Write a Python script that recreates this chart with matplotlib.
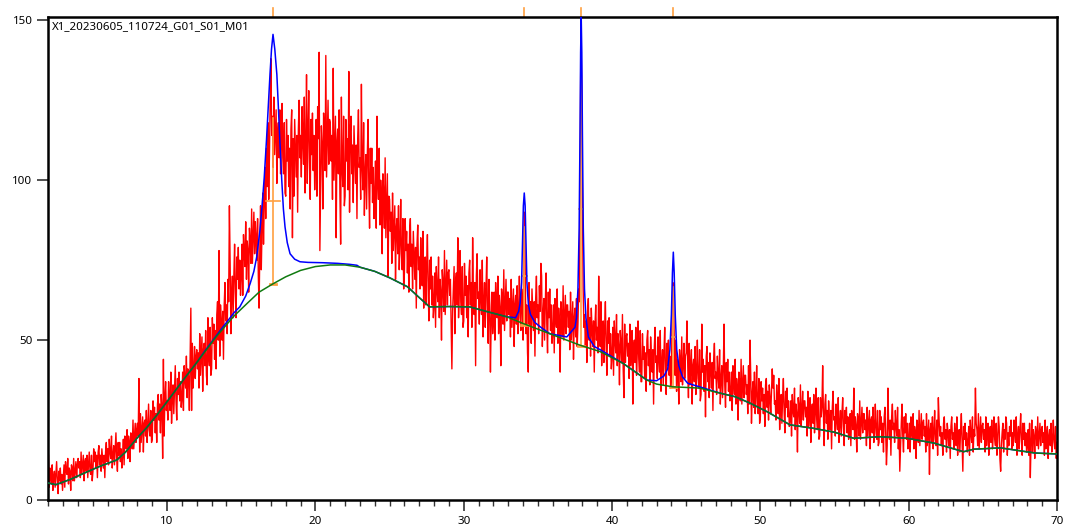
import numpy as np
import matplotlib
matplotlib.use('Agg')
import matplotlib.pyplot as plt

plt.rcParams['font.family'] = ['Noto Sans', 'DejaVu Sans']

title = "X1_20230605_110724_G01_S01_M01"

# measured intensity, 2theta from 2.0 to 70.0 in steps of 0.05 (one row per degree)
x_start, x_step = 2.0, 0.05
counts = [
    14, 4, 10, 7, 5, 11, 3, 7, 9, 4, 8, 12, 6, 2, 9, 6, 10, 5, 8, 3,
    7, 11, 4, 12, 9, 8, 13, 5, 10, 9, 3, 11, 10, 6, 13, 6, 9, 12, 7, 11,
    13, 10, 12, 7, 15, 8, 11, 14, 6, 12, 13, 9, 14, 7, 11, 15, 9, 8, 14, 6,
    9, 16, 12, 15, 10, 14, 7, 15, 17, 11, 14, 9, 16, 13, 10, 14, 7, 15, 18, 12,
    16, 11, 19, 15, 13, 20, 10, 14, 17, 11, 16, 21, 13, 9, 18, 14, 18, 12, 16, 10,
    14, 19, 11, 20, 17, 16, 22, 13, 20, 18, 12, 21, 20, 16, 25, 16, 20, 24, 18, 22,
    24, 20, 38, 15, 27, 18, 22, 26, 15, 24, 25, 20, 28, 18, 23, 30, 22, 20, 28, 18,
    19, 31, 25, 29, 21, 27, 18, 30, 33, 25, 30, 21, 33, 29, 13, 44, 20, 32, 37, 28,
    31, 25, 37, 31, 28, 40, 24, 32, 36, 27, 35, 42, 31, 25, 38, 33, 40, 31, 37, 29,
    32, 40, 28, 42, 38, 35, 45, 32, 41, 38, 28, 44, 60, 28, 49, 35, 41, 48, 38, 45,
    47, 41, 46, 35, 52, 39, 45, 51, 34, 47, 49, 42, 53, 39, 36, 57, 45, 42, 54, 39,
    41, 57, 49, 55, 44, 53, 41, 58, 62, 50, 78, 45, 61, 56, 50, 59, 44, 61, 68, 56,
    61, 52, 69, 62, 92, 74, 52, 64, 70, 57, 70, 80, 65, 57, 76, 69, 79, 66, 75, 64,
    70, 80, 64, 83, 77, 73, 87, 69, 81, 78, 65, 85, 81, 74, 91, 74, 82, 90, 77, 87,
    82, 75, 88, 70, 60, 78, 92, 72, 85, 96, 80, 93, 104, 88, 110, 98, 118, 94, 108, 125,
    138, 114, 120, 104, 126, 108, 115, 122, 99, 115, 118, 107, 122, 102, 110, 124, 107, 102, 118, 96,
    95, 119, 106, 114, 98, 110, 91, 116, 122, 82, 113, 95, 119, 110, 101, 114, 90, 116, 125, 107,
    114, 101, 123, 112, 105, 126, 96, 110, 133, 99, 115, 128, 106, 94, 119, 108, 121, 103, 114, 97,
    105, 119, 95, 123, 113, 140, 78, 99, 117, 111, 91, 121, 115, 103, 139, 101, 113, 125, 105, 119,
    118, 106, 114, 94, 135, 100, 110, 120, 82, 112, 116, 102, 122, 96, 80, 126, 104, 98, 120, 92,
    95, 119, 106, 113, 97, 134, 90, 115, 120, 102, 111, 93, 117, 108, 99, 111, 88, 113, 122, 104,
    107, 94, 130, 104, 97, 118, 89, 102, 108, 91, 108, 119, 98, 85, 110, 99, 110, 93, 104, 88,
    95, 106, 85, 120, 99, 94, 110, 86, 100, 95, 77, 102, 96, 85, 107, 82, 92, 102, 70, 95,
    94, 84, 90, 74, 96, 78, 85, 92, 69, 85, 88, 77, 92, 72, 80, 94, 77, 72, 88, 66,
    71, 88, 78, 84, 71, 80, 65, 84, 88, 73, 80, 66, 84, 76, 69, 79, 60, 80, 86, 72,
    76, 66, 82, 73, 67, 84, 60, 71, 76, 61, 74, 83, 66, 56, 75, 66, 76, 61, 70, 57,
    61, 71, 54, 73, 66, 62, 76, 57, 69, 65, 50, 72, 68, 59, 78, 58, 66, 75, 61, 71,
    72, 64, 69, 55, 41, 59, 66, 73, 52, 68, 71, 61, 82, 57, 65, 78, 62, 58, 73, 54,
    56, 74, 64, 70, 57, 67, 51, 71, 75, 61, 68, 54, 82, 65, 58, 68, 42, 70, 77, 63,
    65, 55, 72, 63, 58, 75, 51, 62, 68, 54, 66, 76, 59, 49, 69, 61, 40, 56, 65, 52,
    56, 65, 50, 68, 61, 57, 70, 52, 64, 60, 42, 66, 63, 55, 72, 53, 61, 69, 56, 65,
    65, 58, 63, 51, 69, 54, 60, 66, 48, 61, 64, 55, 67, 52, 59, 70, 57, 53, 66, 62,
    50, 80, 90, 68, 52, 61, 46, 40, 68, 55, 62, 49, 66, 59, 53, 62, 45, 63, 70, 57,
    61, 52, 67, 59, 74, 70, 48, 58, 63, 50, 62, 71, 55, 46, 65, 57, 66, 53, 61, 49,
    52, 61, 46, 63, 57, 54, 66, 49, 60, 56, 40, 62, 58, 51, 67, 50, 57, 64, 52, 61,
    61, 54, 59, 47, 65, 50, 56, 62, 44, 57, 60, 51, 63, 48, 55, 66, 62, 100, 148, 130,
    95, 66, 54, 58, 48, 56, 43, 59, 63, 50, 57, 45, 60, 53, 48, 56, 40, 55, 61, 50,
    54, 46, 70, 53, 48, 62, 42, 51, 56, 43, 54, 62, 48, 39, 56, 49, 57, 45, 52, 41,
    45, 54, 39, 56, 50, 46, 58, 42, 52, 48, 36, 53, 49, 43, 58, 41, 32, 55, 43, 51,
    52, 45, 49, 38, 55, 42, 47, 53, 30, 48, 50, 43, 54, 39, 46, 56, 44, 40, 53, 37,
    37, 52, 44, 48, 38, 46, 34, 50, 53, 42, 47, 36, 51, 45, 40, 47, 30, 48, 54, 43,
    45, 38, 51, 44, 40, 53, 34, 43, 47, 36, 46, 54, 41, 33, 49, 42, 50, 39, 45, 35,
    38, 58, 68, 62, 48, 39, 50, 34, 44, 41, 30, 47, 43, 37, 51, 36, 42, 49, 38, 45,
    46, 56, 43, 32, 49, 36, 41, 47, 30, 42, 44, 37, 48, 33, 40, 50, 38, 35, 47, 31,
    33, 55, 40, 44, 34, 42, 26, 45, 48, 37, 43, 32, 46, 41, 35, 43, 28, 44, 49, 38,
    40, 33, 45, 39, 35, 47, 30, 38, 42, 32, 41, 55, 36, 29, 43, 37, 44, 34, 40, 31,
    33, 40, 28, 42, 37, 33, 44, 30, 38, 35, 25, 40, 37, 31, 44, 30, 36, 42, 32, 39,
    39, 33, 36, 27, 42, 30, 50, 39, 24, 33, 37, 29, 40, 27, 33, 42, 30, 27, 38, 24,
    26, 37, 31, 35, 27, 33, 23, 36, 38, 29, 34, 25, 36, 32, 27, 34, 41, 35, 39, 30,
    31, 25, 36, 30, 27, 38, 22, 29, 33, 24, 32, 38, 28, 21, 34, 29, 35, 26, 31, 23,
    25, 31, 20, 33, 28, 26, 35, 22, 30, 27, 15, 32, 29, 24, 36, 23, 28, 34, 25, 31,
    31, 26, 29, 20, 34, 23, 27, 32, 18, 28, 30, 24, 33, 21, 27, 35, 25, 22, 32, 19,
    20, 32, 26, 29, 42, 27, 17, 30, 33, 24, 28, 19, 31, 26, 22, 28, 16, 29, 34, 25,
    26, 20, 30, 25, 22, 32, 18, 24, 28, 20, 27, 32, 23, 17, 28, 24, 29, 21, 26, 19,
    21, 27, 17, 28, 24, 22, 35, 19, 26, 23, 15, 27, 25, 20, 31, 19, 24, 29, 21, 27,
    27, 22, 25, 17, 29, 20, 24, 28, 16, 25, 26, 21, 29, 18, 23, 30, 21, 19, 28, 17,
    18, 28, 22, 26, 18, 24, 15, 26, 29, 21, 11, 17, 35, 23, 19, 25, 14, 26, 30, 22,
    24, 18, 28, 23, 20, 29, 16, 22, 9, 17, 24, 30, 20, 15, 26, 21, 27, 19, 24, 16,
    19, 24, 15, 26, 22, 19, 27, 16, 23, 21, 13, 25, 23, 18, 28, 17, 22, 27, 19, 24,
    25, 20, 23, 15, 27, 17, 21, 25, 8, 22, 24, 18, 26, 16, 21, 28, 19, 17, 25, 14,
    32, 25, 20, 23, 17, 21, 14, 24, 26, 19, 22, 15, 24, 21, 17, 22, 13, 23, 26, 19,
    21, 16, 24, 20, 17, 26, 14, 20, 22, 15, 22, 27, 18, 9, 23, 19, 24, 17, 21, 15,
    18, 23, 14, 25, 21, 18, 26, 15, 22, 20, 35, 24, 22, 17, 27, 16, 21, 26, 18, 23,
    24, 19, 22, 15, 26, 17, 21, 24, 14, 21, 23, 18, 25, 16, 20, 26, 19, 17, 24, 14,
    19, 26, 23, 13, 9, 17, 21, 24, 15, 22, 19, 26, 24, 14, 21, 17, 23, 20, 25, 16,
    21, 17, 25, 21, 18, 26, 14, 20, 23, 16, 22, 27, 19, 14, 24, 19, 24, 17, 21, 15,
    17, 22, 14, 24, 7, 18, 25, 15, 22, 20, 13, 23, 21, 17, 26, 16, 20, 24, 17, 22,
    23, 18, 21, 14, 25, 16, 20, 23, 13, 20, 22, 17, 24, 15, 19, 25, 18, 16, 23, 13,
    18,
]

# background (green)
bg_x = [2.0, 2.5, 3.5, 4.5, 5.5, 6.6, 7.2, 8.0, 8.6, 9.3, 10.2, 11.0, 12.0, 13.3,
        14.5, 15.4, 16.2, 17.1, 18.0, 19.0, 20.0, 21.0, 22.0, 23.0, 24.0, 25.0,
        26.2, 27.0, 27.7, 29.0, 30.4, 31.5, 32.9, 34.0, 35.8, 37.85, 39.2, 40.75,
        42.35, 43.0, 44.1, 45.9, 47.3, 48.3, 49.3, 50.5, 52.0, 53.6, 55.0, 56.3,
        58.1, 59.9, 61.7, 63.7, 64.4, 66.2, 68.5, 70.0]
bg_y = [5.3, 4.8, 6.5, 8.6, 10.6, 12.5, 15.0, 19.5, 22.5, 26.5, 32.0, 37.0, 43.0, 51.0,
        57.5, 61.5, 65.0, 67.5, 69.8, 71.8, 73.0, 73.5, 73.5, 72.8, 71.5, 69.5,
        66.7, 63.3, 60.4, 60.5, 60.4, 59.0, 57.3, 55.2, 52.0, 48.4, 46.4, 42.7,
        37.5, 36.25, 35.4, 35.0, 33.4, 32.3, 30.3, 27.5, 23.5, 22.4, 21.2, 19.3,
        19.8, 19.3, 17.8, 15.1, 15.9, 16.3, 14.7, 14.4]

# fitted peaks (blue), only where they rise above the background
peak1_x = [12.5, 13.5, 14.5, 14.9, 15.3, 15.6, 15.85, 16.04, 16.25, 16.4, 16.55, 16.7,
           16.82, 16.94, 17.04, 17.14, 17.26, 17.4, 17.5, 17.6, 17.73, 17.84, 17.95,
           18.1, 18.29, 18.6, 18.96, 19.5, 20.5, 21.5, 22.3, 22.8]
peak1_y = [46.3, 52.5, 58.5, 60.4, 63.8, 67.7, 71.5, 76.0, 84.0, 91.7, 101.0, 112.5,
           123.0, 133.4, 141.0, 145.6, 141.0, 133.0, 123.0, 112.5, 100.0, 91.0, 85.4,
           80.5, 77.0, 75.3, 74.5, 74.3, 74.2, 74.0, 73.7, 73.4]
peak2_x = [33.5, 33.7, 33.8, 33.9, 33.96, 34.02, 34.08, 34.14, 34.2, 34.26, 34.36, 34.5, 34.8, 35.2]
peak2_y = [57.0, 59.0, 61.5, 68.0, 80.0, 92.0, 96.0, 92.0, 80.0, 68.0, 61.0, 58.0, 55.5, 54.0]
peak3_x = [36.95, 37.5, 37.6, 37.7, 37.78, 37.84, 37.88, 37.92, 37.96, 38.0, 38.06, 38.14,
           38.24, 38.4, 38.8, 39.2]
peak3_y = [51.0, 54.0, 57.0, 66.0, 85.0, 115.0, 140.0, 151.0, 140.0, 115.0, 85.0, 66.0,
           57.0, 51.0, 48.0, 47.0]
peak4_x = [43.0, 43.5, 43.75, 43.9, 44.0, 44.07, 44.13, 44.19, 44.26, 44.36, 44.5, 44.75, 45.1, 45.9]
peak4_y = [37.3, 38.8, 41.0, 47.0, 58.0, 71.0, 77.5, 71.0, 58.0, 47.0, 42.0, 38.5, 36.5, 35.4]

# peak markers (orange)
peak_pos = [17.14, 34.08, 37.92, 44.13]
peak_base = [67.5, 54.7, 48.3, 35.3]
peak_top = [119.3, 85.3, 133.6, 66.7]
peak_fwhm = [0.9, 0.34, 0.27, 0.3]


def main():
    x = x_start + x_step * np.arange(len(counts))

    # blue = background with the peak segments swapped in
    fit_x = list(bg_x)
    fit_y = list(bg_y)
    for px, py in [(peak1_x, peak1_y), (peak2_x, peak2_y), (peak3_x, peak3_y), (peak4_x, peak4_y)]:
        keep = [(a, b) for a, b in zip(fit_x, fit_y) if a < px[0] or a > px[-1]]
        keep += list(zip(px, py))
        keep.sort()
        fit_x = [k[0] for k in keep]
        fit_y = [k[1] for k in keep]

    fig = plt.figure(figsize=(10.65, 5.28), dpi=100)
    ax = fig.add_axes([0.0455, 0.053, 0.9470, 0.914])

    ax.plot(x, counts, color='#ff0000', lw=1.0, zorder=2)
    orange = '#ffa040'
    for p, b, t, w in zip(peak_pos, peak_base, peak_top, peak_fwhm):
        half = (b + t) / 2
        ax.plot([p, p], [b, t], color=orange, lw=1.2, zorder=3)
        ax.plot([p - w / 2, p + w / 2], [half, half], color=orange, lw=1.2, zorder=3)
        ax.plot([p - 0.2, p + 0.2], [b, b], color=orange, lw=2.0, zorder=3)
        ax.plot([p, p], [1.0, 1.019], color=orange, lw=1.2,
                transform=ax.get_xaxis_transform(), clip_on=False)
    ax.plot(fit_x, fit_y, color='#0000ff', lw=1.1, zorder=4)
    ax.plot(bg_x, bg_y, color='#107a10', lw=1.1, zorder=5)

    ax.set_xlim(2, 70)
    ax.set_ylim(0, 150.9)
    ax.set_xticks([10, 20, 30, 40, 50, 60, 70])
    ax.set_xticks(np.arange(2, 71, 1), minor=True)
    ax.set_yticks([0, 50, 100, 150])
    ax.tick_params(axis='both', which='major', length=8, width=1.2, labelsize=8.3, color='#333333')
    ax.tick_params(axis='x', which='minor', length=4, width=1.0, color='#333333')
    for s in ax.spines.values():
        s.set_linewidth(1.8)

    ax.text(0.003, 0.993, title, transform=ax.transAxes, ha='left', va='top', fontsize=8.3)

    fig.savefig('out.png', dpi=100)


if __name__ == '__main__':
    main()
